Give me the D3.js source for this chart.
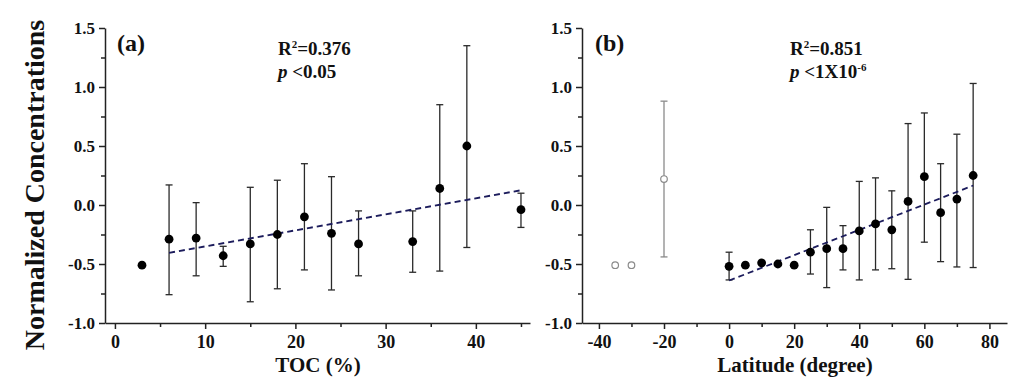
<!DOCTYPE html>
<html>
<head>
<meta charset="utf-8">
<script src="https://cdn.jsdelivr.net/npm/d3@7"></script>
<style>
  body { margin: 0; background: #fff; }
  svg { display: block; }
  text { font-family: "Liberation Serif", "Times New Roman", serif; font-weight: bold; fill: #111; }
</style>
</head>
<body>
<svg id="chart" width="1024" height="380"></svg>
<script>
// panel (a): TOC
var tocX  = [3, 6, 9, 12, 15, 18, 21, 24, 27, 33, 36, 39, 45]
var tocY  = [-0.51, -0.29, -0.28, -0.43, -0.33, -0.25, -0.10, -0.24, -0.33, -0.31, 0.14, 0.50, -0.04]
var tocHi = [null, 0.17, 0.02, -0.35, 0.15, 0.21, 0.35, 0.24, -0.05, -0.05, 0.85, 1.35, 0.10]
var tocLo = [null, -0.76, -0.60, -0.52, -0.82, -0.71, -0.55, -0.72, -0.60, -0.57, -0.56, -0.36, -0.19]
var tocFitX = [6, 45]
var tocFitY = [-0.405, 0.125]
var tocTicks = [0, 10, 20, 30, 40]

// panel (b): latitude, filled = fitted, open = southern sites
var latX  = [0, 5, 10, 15, 20, 25, 30, 35, 40, 45, 50, 55, 60, 65, 70, 75]
var latY  = [-0.52, -0.51, -0.49, -0.50, -0.51, -0.40, -0.37, -0.37, -0.22, -0.16, -0.21, 0.03, 0.24, -0.065, 0.05, 0.25]
var latHi = [-0.40, null, null, null, null, -0.21, -0.02, -0.175, 0.20, 0.23, 0.12, 0.69, 0.78, 0.35, 0.60, 1.03]
var latLo = [-0.635, null, null, null, null, -0.585, -0.70, -0.55, -0.635, -0.55, -0.54, -0.63, -0.315, -0.48, -0.525, -0.53]
var southX  = [-35, -30, -20]
var southY  = [-0.51, -0.51, 0.22]
var southHi = [null, null, 0.88]
var southLo = [null, null, -0.44]
var latFitX = [0, 75]
var latFitY = [-0.64, 0.165]
var latTicks = [-40, -20, 0, 20, 40, 60, 80]

var yTicks = [-1.0, -0.5, 0.0, 0.5, 1.0, 1.5]

var svg = d3.select('#chart')
var plotTop = 28, plotBottom = 323

function rows(xs, ys, his, los) {
    return xs.map(function (x, i) {return {x: x, y: ys[i], hi: his[i], lo: los[i]}})
}

function drawPanel(o) {
    var x = d3.scaleLinear().domain(o.xDomain).range(o.xRange)
    var y = d3.scaleLinear().domain([-1, 1.5]).range([plotBottom, plotTop])
    var g = svg.append('g')

    // minor ticks
    g.append('g')
        .attr('transform', 'translate(0,' + plotBottom + ')')
        .call(d3.axisBottom(x).tickValues(o.minor).tickSize(4).tickFormat(''))
        .call(function (s) {s.select('.domain').remove()})
    g.append('g')
        .attr('transform', 'translate(' + o.xRange[0] + ',0)')
        .call(d3.axisLeft(y).tickValues([-0.75, -0.25, 0.25, 0.75, 1.25]).tickSize(4).tickFormat(''))
        .call(function (s) {s.select('.domain').remove()})

    // main axes
    var gx = g.append('g')
        .attr('transform', 'translate(0,' + plotBottom + ')')
        .call(d3.axisBottom(x).tickValues(o.ticks).tickSize(6).tickPadding(6).tickSizeOuter(0)
            .tickFormat(function (d) {return String(d)}))
    gx.selectAll('text').style('font-size', '18px')
    var gy = g.append('g')
        .attr('transform', 'translate(' + o.xRange[0] + ',0)')
        .call(d3.axisLeft(y).tickValues(yTicks).tickSize(6).tickPadding(4).tickSizeOuter(0)
            .tickFormat(function (d) {return d.toFixed(1)}))
    gy.selectAll('text').style('font-size', '17px')
    g.selectAll('.domain, .tick line').attr('stroke', '#222').attr('stroke-width', 1.5)

    // error bars
    function bars(data, color) {
        var eb = g.append('g').attr('stroke', color).attr('stroke-width', 1.3)
        data.filter(function (d) {return d.hi != null}).forEach(function (d) {
            eb.append('line').attr('x1', x(d.x)).attr('x2', x(d.x)).attr('y1', y(d.hi)).attr('y2', y(d.lo))
            eb.append('line').attr('x1', x(d.x) - 3.5).attr('x2', x(d.x) + 3.5).attr('y1', y(d.hi)).attr('y2', y(d.hi))
            eb.append('line').attr('x1', x(d.x) - 3.5).attr('x2', x(d.x) + 3.5).attr('y1', y(d.lo)).attr('y2', y(d.lo))
        })
    }
    if (o.open) bars(o.open, '#8a8a8a')
    bars(o.data, '#2a2a2a')

    // fit line
    var fit = o.fitX.map(function (v, i) {return [v, o.fitY[i]]})
    g.append('path')
        .datum(fit)
        .attr('d', d3.line().x(function (d) {return x(d[0])}).y(function (d) {return y(d[1])}))
        .attr('fill', 'none')
        .attr('stroke', '#1c1c5c')
        .attr('stroke-width', 1.8)
        .attr('stroke-dasharray', '6,4')

    // points
    g.selectAll('.pt').data(o.data).enter().append('circle')
        .attr('cx', function (d) {return x(d.x)})
        .attr('cy', function (d) {return y(d.y)})
        .attr('r', 4.4)
        .attr('fill', '#000')
    if (o.open) {
        g.selectAll('.op').data(o.open).enter().append('circle')
            .attr('cx', function (d) {return x(d.x)})
            .attr('cy', function (d) {return y(d.y)})
            .attr('r', 3.3)
            .attr('fill', '#fff')
            .attr('stroke', '#8a8a8a')
            .attr('stroke-width', 1.2)
    }

    // labels
    g.append('text').attr('x', o.labelX).attr('y', 51).style('font-size', '24px').text(o.label)
    var r2 = g.append('text').attr('x', o.noteX).attr('y', 55).style('font-size', '19px')
    r2.append('tspan').text('R')
    r2.append('tspan').attr('dy', -7).style('font-size', '11px').text('2')
    r2.append('tspan').attr('dy', 7).text('=' + o.r2)
    var p = g.append('text').attr('x', o.noteX).attr('y', 78).style('font-size', '19px')
    p.append('tspan').style('font-style', 'italic').text('p')
    p.append('tspan').text(' <' + o.p)
    if (o.pExp) p.append('tspan').attr('dy', -7).style('font-size', '11px').text(o.pExp)

    g.append('text')
        .attr('x', o.titleX)
        .attr('y', 372)
        .attr('text-anchor', 'middle')
        .style('font-size', '21px')
        .text(o.title)
}

drawPanel({
    xDomain: [-1.1, 46], xRange: [105, 530],
    ticks: tocTicks, minor: [5, 15, 25, 35, 45],
    data: rows(tocX, tocY, tocHi, tocLo),
    fitX: tocFitX, fitY: tocFitY,
    label: '(a)', labelX: 117, noteX: 278, r2: '0.376', p: '0.05',
    title: 'TOC (%)', titleX: 318
})

drawPanel({
    xDomain: [-45.2, 85.4], xRange: [582, 1007],
    ticks: latTicks, minor: [-30, -10, 10, 30, 50, 70],
    data: rows(latX, latY, latHi, latLo),
    open: rows(southX, southY, southHi, southLo),
    fitX: latFitX, fitY: latFitY,
    label: '(b)', labelX: 595, noteX: 790, r2: '0.851', p: '1X10', pExp: '-6',
    title: 'Latitude (degree)', titleX: 795
})

// shared y title
svg.append('text')
    .attr('transform', 'translate(44,185) rotate(-90)')
    .attr('text-anchor', 'middle')
    .style('font-size', '28px')
    .text('Normalized Concentrations')
</script>
</body>
</html>
